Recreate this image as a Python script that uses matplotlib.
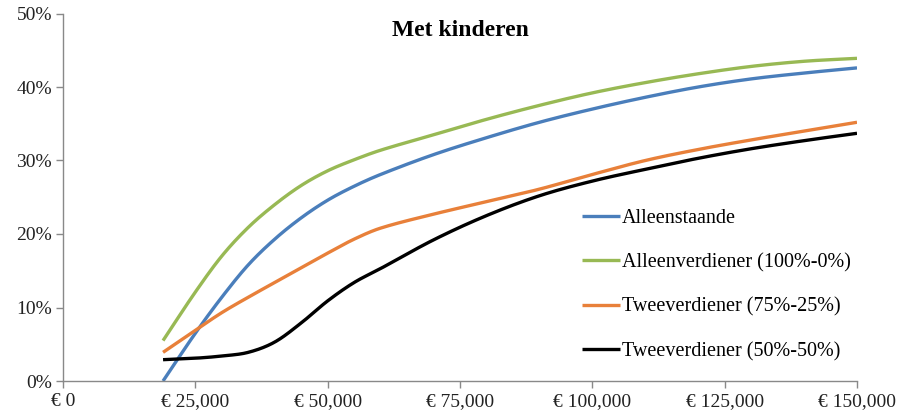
import numpy as np
import matplotlib
matplotlib.use("Agg")
import matplotlib.pyplot as plt

plt.rcParams['font.family'] = ['Liberation Serif', 'DejaVu Serif']

income = [18900, 25000, 30000, 35000, 40000, 45000, 50000, 55000, 60000, 70000,
          80000, 90000, 100000, 110000, 120000, 130000, 140000, 150000]
alleenstaande = [0.0, 6.5, 11.4, 15.8, 19.3, 22.2, 24.6, 26.5, 28.1, 30.8,
                 33.1, 35.2, 37.0, 38.6, 40.0, 41.1, 41.9, 42.6]
alleenverdiener = [5.5, 12.1, 17.0, 20.9, 24.0, 26.6, 28.6, 30.1, 31.4, 33.5,
                   35.6, 37.5, 39.2, 40.6, 41.8, 42.8, 43.5, 43.9]
twee_75_25 = [3.9, 6.9, 9.3, 11.4, 13.4, 15.4, 17.4, 19.3, 20.8, 22.7,
              24.4, 26.1, 28.1, 30.0, 31.5, 32.8, 34.0, 35.2]
twee_50_50 = [2.9, 3.1, 3.4, 3.9, 5.3, 7.9, 10.9, 13.4, 15.3, 19.2,
              22.5, 25.2, 27.2, 28.8, 30.3, 31.6, 32.7, 33.7]

labels = ["Alleenstaande", "Alleenverdiener (100%-0%)",
          "Tweeverdiener (75%-25%)", "Tweeverdiener (50%-50%)"]
colors = ["#4A7EBB", "#98B954", "#E8803A", "#000000"]
xticks = [0, 25000, 50000, 75000, 100000, 125000, 150000]
yticks = [0, 10, 20, 30, 40, 50]
title = "Met kinderen"


def smooth(x, y, n=40):
    """Smoothed line through the points (cubic Hermite, centred slopes)."""
    x = np.asarray(x, float)
    y = np.asarray(y, float)
    m = np.empty_like(y)
    m[1:-1] = (y[2:] - y[:-2]) / (x[2:] - x[:-2])
    m[0] = (y[1] - y[0]) / (x[1] - x[0])
    m[-1] = (y[-1] - y[-2]) / (x[-1] - x[-2])
    xs, ys = [], []
    for i in range(len(x) - 1):
        h = x[i + 1] - x[i]
        t = np.linspace(0, 1, n)
        if i > 0:
            t = t[1:]
        h00 = 2 * t ** 3 - 3 * t ** 2 + 1
        h10 = t ** 3 - 2 * t ** 2 + t
        h01 = -2 * t ** 3 + 3 * t ** 2
        h11 = t ** 3 - t ** 2
        xs.append(x[i] + t * h)
        ys.append(h00 * y[i] + h10 * h * m[i] + h01 * y[i + 1] + h11 * h * m[i + 1])
    return np.concatenate(xs), np.concatenate(ys)


fig = plt.figure(figsize=(8.99, 4.18), dpi=100)
ax = fig.add_axes([63 / 899, 1 - 381 / 418, (857 - 63) / 899, (381 - 13.5) / 418])

for vals, lab, col in zip([alleenstaande, alleenverdiener, twee_75_25, twee_50_50], labels, colors):
    sx, sy = smooth(income, vals)
    ax.plot(sx, sy, color=col, lw=2.4, label=lab, solid_capstyle='butt')

ax.set_xlim(0, 150000)
ax.set_ylim(0, 50)
ax.set_xticks(xticks)
ax.set_xticklabels(["€ 0" if v == 0 else "€ {:,}".format(v) for v in xticks])
ax.set_yticks(yticks)
ax.set_yticklabels(["{}%".format(v) for v in yticks])
ax.tick_params(axis='both', labelsize=14, colors='#222222', length=5, width=1, color='#898989')
ax.tick_params(axis='x', pad=4)
ax.tick_params(axis='y', pad=3)
for s in ['top', 'right']:
    ax.spines[s].set_visible(False)
for s in ['left', 'bottom']:
    ax.spines[s].set_color('#898989')
    ax.spines[s].set_linewidth(1)

fig.text(460 / 899, 1 - 30 / 418, title, ha='center', va='center', fontsize=17, fontweight='bold')

leg = ax.legend(loc='upper left', bbox_to_anchor=((582 - 63) / 794, (381 - 209) / 367.5),
                frameon=False, fontsize=14.5, handlelength=1.9, handletextpad=0.1,
                labelspacing=1.25, borderaxespad=0, borderpad=0)

fig.savefig("out.png", dpi=100)
